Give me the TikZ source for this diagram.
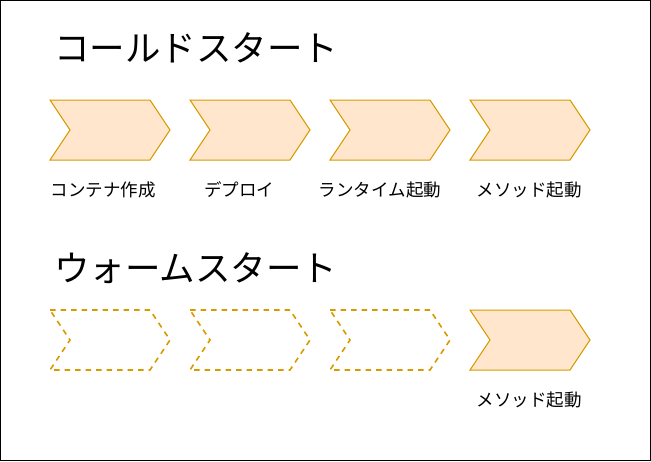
\documentclass[tikz,border=0pt]{standalone}
\usepackage{fontspec}
\setmainfont{Noto Sans CJK JP}
\begin{document}
\begin{tikzpicture}[x=1pt,y=-1pt,
  chev/.style={draw=strokeC, fill=fillC, line width=1pt, line join=miter},
  chevdash/.style={draw=strokeC, line width=1.6pt, dash pattern=on 5.5pt off 5pt},
  lbl/.style={font=\fontsize{17.5}{20}\selectfont, inner sep=0pt},
  ttl/.style={font=\fontsize{35.5}{42}\selectfont, inner sep=0pt, anchor=west}]
\definecolor{strokeC}{HTML}{D79B00}
\definecolor{fillC}{HTML}{FFE6CC}
\draw[black, line width=1pt] (0.5,0.5) rectangle (650.5,460.5);
\useasboundingbox (0,0) rectangle (651,461);
\node[ttl] (t1) at (54,48) {コールドスタート};
\node[ttl] (t2) at (54,268) {ウォームスタート};
\foreach \i/\x in {1/50,2/190,3/330,4/470}{
  \draw[chev] (\x,100) -- (\x+100,100) -- (\x+120,130) -- (\x+100,160) -- (\x,160) -- (\x+20,130) -- cycle;
}
\foreach \i/\x in {1/50,2/190,3/330}{
  \draw[chevdash] (\x,310) -- (\x+100,310) -- (\x+120,340) -- (\x+100,370) -- (\x,370) -- (\x+20,340) -- cycle;
}
\draw[chev] (470,310) -- (570,310) -- (590,340) -- (570,370) -- (470,370) -- (490,340) -- cycle;
\node[lbl] (l1) at (103,190) {コンテナ作成};
\node[lbl] (l2) at (239,190) {デプロイ};
\node[lbl] (l3) at (380,190) {ランタイム起動};
\node[lbl] (l4) at (529,190) {メソッド起動};
\node[lbl] (l5) at (529,400) {メソッド起動};
\end{tikzpicture}
\end{document}
